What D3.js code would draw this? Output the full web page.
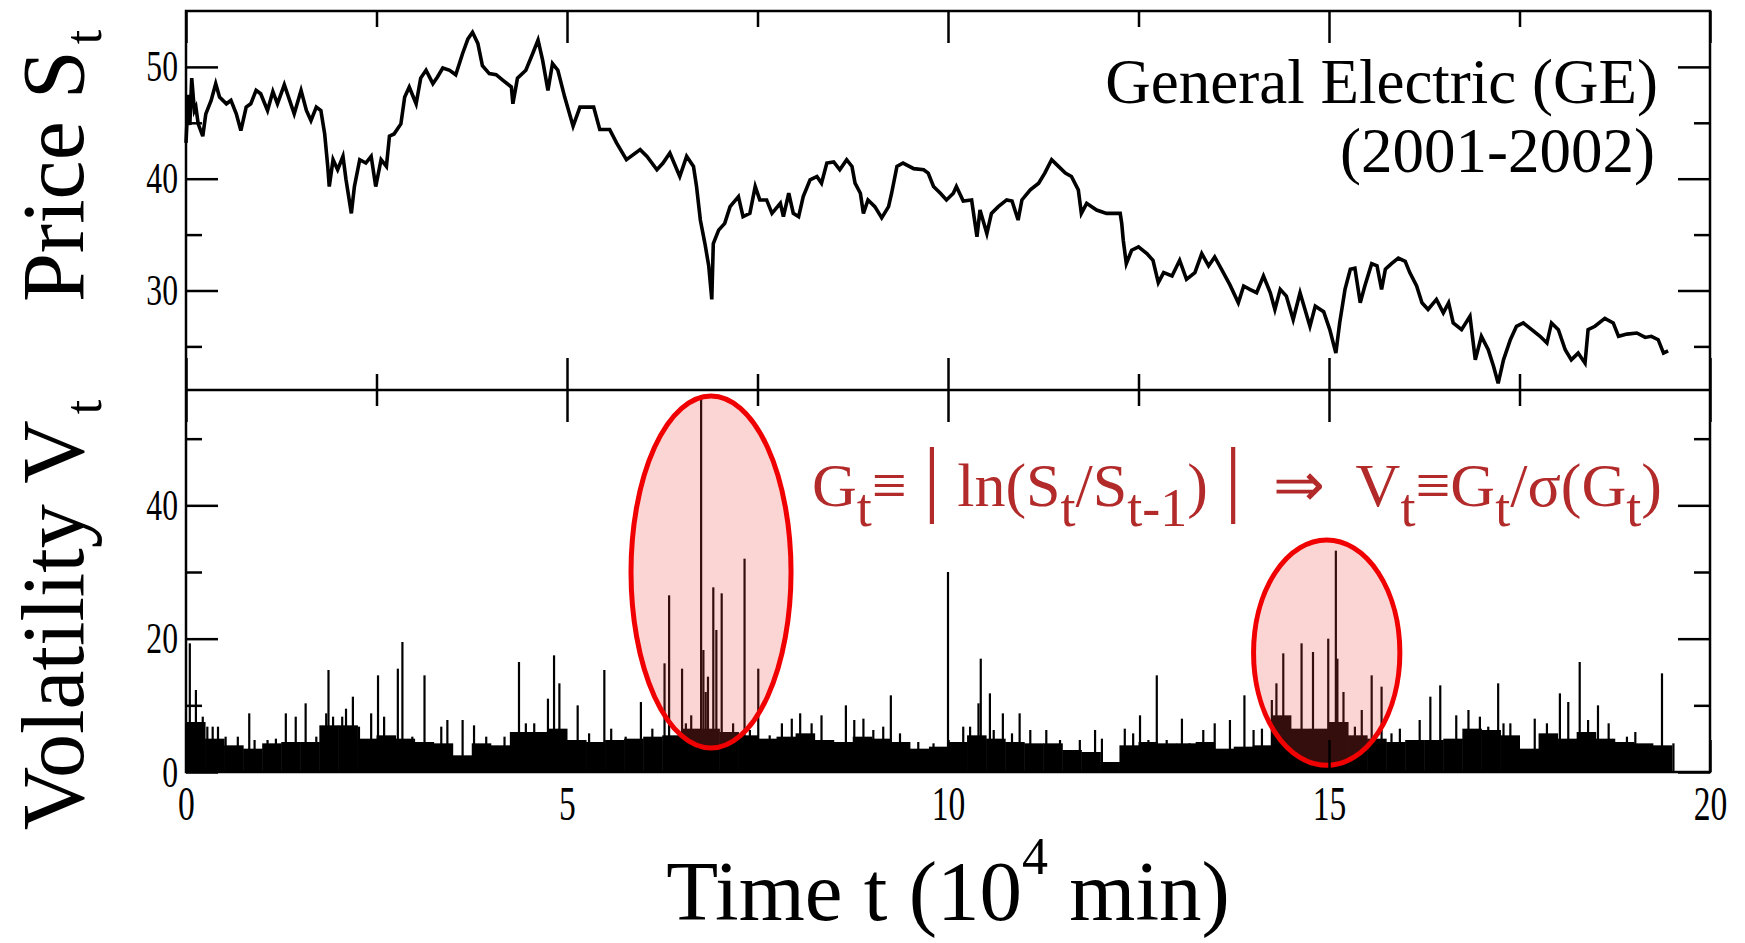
<!DOCTYPE html>
<html>
<head>
<meta charset="utf-8">
<script src="https://d3js.org/d3.v7.min.js"></script>
<style>
body { margin: 0; background: #fff; }
svg text { font-family: "Liberation Serif", "Times New Roman", serif; }
</style>
</head>
<body>
<script>
// GE price S_t, [t (10^4 min), price]
var priceSeries = [[0,43.2],[0.03,47.5],[0.05,44.8],[0.075,49.0],[0.11,46.1],[0.13,46.4],[0.16,44.9],[0.22,43.8],[0.26,45.8],[0.33,47.0],[0.39,48.5],[0.44,47.3],[0.53,46.7],[0.59,47.0],[0.66,45.8],[0.72,44.3],[0.79,46.4],[0.85,46.7],[0.92,47.9],[0.98,47.6],[1.07,46.1],[1.14,47.8],[1.2,46.7],[1.29,48.4],[1.36,47.0],[1.42,45.8],[1.51,47.9],[1.58,46.1],[1.64,45.2],[1.71,46.4],[1.77,46.1],[1.82,44.0],[1.86,41.1],[1.88,39.3],[1.93,41.7],[1.99,40.8],[2.06,42.0],[2.1,39.9],[2.17,36.9],[2.21,39.3],[2.28,41.7],[2.36,41.4],[2.43,42.0],[2.49,39.3],[2.56,41.7],[2.63,41.1],[2.67,43.8],[2.73,44.0],[2.82,44.9],[2.87,47.3],[2.93,48.2],[3.02,46.7],[3.08,49.0],[3.15,49.7],[3.24,48.5],[3.3,49.1],[3.37,49.9],[3.46,49.7],[3.54,49.3],[3.63,51.2],[3.7,52.5],[3.76,53.1],[3.83,52.1],[3.89,50.1],[3.98,49.4],[4.07,49.3],[4.16,48.8],[4.27,48.2],[4.29,46.7],[4.35,49.0],[4.46,49.7],[4.55,51.2],[4.62,52.4],[4.68,50.6],[4.75,47.9],[4.81,50.3],[4.88,49.7],[4.97,47.3],[5.08,44.7],[5.17,46.4],[5.35,46.4],[5.43,44.4],[5.56,44.4],[5.65,43.2],[5.78,41.7],[5.96,42.6],[6.05,42.0],[6.18,40.8],[6.26,41.4],[6.35,42.3],[6.48,40.2],[6.57,42.0],[6.66,41.1],[6.7,39.3],[6.75,36.3],[6.81,34.2],[6.86,32.2],[6.9,29.2],[6.92,34.2],[6.99,35.4],[7.07,36.0],[7.14,37.5],[7.25,38.4],[7.31,36.6],[7.4,36.9],[7.47,39.3],[7.53,38.1],[7.62,38.1],[7.69,36.9],[7.8,37.8],[7.84,36.6],[7.91,38.7],[7.97,36.9],[8.04,36.6],[8.1,38.4],[8.19,39.9],[8.28,40.2],[8.34,39.6],[8.41,41.4],[8.5,41.5],[8.58,40.8],[8.67,41.7],[8.74,41.1],[8.78,39.6],[8.85,38.7],[8.89,36.9],[8.95,38.1],[9.04,37.5],[9.13,36.5],[9.22,37.5],[9.26,38.7],[9.33,41.1],[9.41,41.4],[9.55,40.9],[9.68,40.8],[9.74,40.5],[9.81,39.3],[9.9,38.7],[9.98,38.1],[10.07,38.7],[10.11,39.3],[10.2,38.0],[10.31,38.1],[10.38,34.8],[10.42,37.2],[10.51,35.1],[10.57,36.9],[10.66,37.5],[10.77,38.1],[10.84,38.0],[10.92,36.3],[10.97,38.1],[11.08,39.0],[11.19,39.6],[11.27,40.5],[11.36,41.7],[11.45,41.1],[11.54,40.5],[11.62,40.2],[11.71,39.0],[11.75,36.9],[11.82,37.8],[11.95,37.2],[12.08,36.9],[12.26,36.9],[12.28,36.0],[12.3,34.5],[12.34,32.4],[12.41,33.6],[12.5,33.9],[12.61,33.3],[12.69,32.7],[12.76,30.7],[12.83,31.6],[12.94,31.3],[13.04,32.7],[13.13,31.0],[13.24,31.6],[13.33,33.3],[13.42,32.2],[13.5,33.0],[13.59,31.9],[13.7,30.5],[13.81,28.9],[13.88,30.4],[13.96,30.1],[14.05,29.8],[14.14,31.3],[14.23,29.8],[14.29,28.3],[14.36,30.1],[14.44,29.5],[14.53,27.4],[14.62,29.8],[14.75,26.8],[14.82,28.6],[14.93,28.1],[15.01,26.5],[15.09,24.4],[15.14,27.1],[15.21,30.1],[15.28,31.9],[15.34,32.0],[15.41,28.9],[15.47,30.4],[15.56,32.4],[15.63,32.2],[15.69,30.1],[15.74,31.9],[15.82,32.4],[15.91,32.9],[16.0,32.6],[16.06,31.6],[16.15,30.4],[16.22,28.9],[16.3,28.3],[16.41,29.2],[16.5,28.0],[16.57,28.9],[16.63,27.1],[16.74,26.5],[16.85,27.7],[16.92,23.8],[17.0,25.9],[17.09,24.7],[17.16,23.2],[17.22,21.7],[17.29,23.8],[17.38,25.6],[17.46,26.8],[17.55,27.1],[17.66,26.5],[17.77,25.9],[17.86,25.3],[17.92,27.1],[18.01,26.5],[18.1,24.7],[18.18,23.8],[18.27,24.4],[18.36,23.5],[18.4,26.5],[18.49,26.8],[18.62,27.5],[18.73,27.1],[18.8,25.9],[18.91,26.1],[19.04,26.2],[19.15,25.8],[19.23,25.9],[19.32,25.6],[19.39,24.4],[19.45,24.6]];

// volatility: height of the dense black floor, one value per 0.25 bin
var floorT = [0,0.25,0.5,0.75,1,1.25,1.5,1.75,2,2.25,2.5,2.75,3,3.25,3.5,3.75,4,4.25,4.5,4.75,5,5.25,5.5,5.75,6,6.25,6.5,6.75,7,7.25,7.5,7.75,8,8.25,8.5,8.75,9,9.25,9.5,9.75,10,10.25,10.5,10.75,11,11.25,11.5,11.75,12,12.25,12.5,12.75,13,13.25,13.5,13.75,14,14.25,14.5,14.75,15,15.25,15.5,15.75,16,16.25,16.5,16.75,17,17.25,17.5,17.75,18,18.25,18.5,18.75,19,19.25];
var floorV = [7.5,5.0,4.0,3.5,4.3,4.5,4.5,7.0,7.0,5.0,5.5,5.0,4.5,4.3,2.5,4.3,4.0,6.0,6.0,6.5,4.8,4.5,4.8,5.0,5.3,5.5,6.5,6.5,6.0,5.5,5.0,5.3,5.8,4.8,4.5,5.3,5.0,4.5,3.5,3.8,4.5,5.5,5.0,4.5,4.3,4.3,3.3,3.0,1.5,4.0,4.5,4.3,4.3,4.5,3.5,3.8,4.0,8.5,6.5,6.5,7.5,5.5,5.0,4.5,4.8,4.8,5.0,6.5,6.3,5.5,3.5,5.8,5.0,6.0,5.0,4.5,4.3,4.0];
var floorBin = 0.25;

// single bars standing out of the floor, [t, V]
var spikes = [[0.05,19.3],[0.13,12.3],[0.22,8.3],[0.28,6.8],[0.35,6.8],[0.42,6.8],[0.52,5.3],[0.68,5.3],[0.83,8.8],[0.9,4.8],[1.07,4.8],[1.18,5.0],[1.31,8.8],[1.44,8.3],[1.57,10.3],[1.71,5.3],[1.84,8.8],[1.87,15.3],[1.93,8.3],[2.05,8.3],[2.1,9.5],[2.19,11.3],[2.27,6.8],[2.43,8.8],[2.52,14.5],[2.6,8.3],[2.78,15.5],[2.84,19.5],[2.97,5.3],[3.13,14.5],[3.35,6.8],[3.43,7.8],[3.63,7.8],[3.78,7.0],[3.94,5.3],[4.18,5.3],[4.37,16.5],[4.46,7.3],[4.57,7.3],[4.75,11.0],[4.83,17.5],[4.9,13.3],[5.14,10.0],[5.29,5.8],[5.49,15.3],[5.58,6.5],[5.77,5.3],[5.97,10.5],[6.12,6.5],[6.28,16.3],[6.34,26.5],[6.51,15.5],[6.56,7.3],[6.63,8.5],[6.76,56.5],[6.79,18.3],[6.82,12.0],[6.85,14.3],[6.92,27.7],[6.96,21.3],[7.03,26.8],[7.18,7.3],[7.33,32.0],[7.4,6.3],[7.51,15.5],[7.66,5.5],[7.82,7.3],[7.95,8.0],[8.06,8.8],[8.21,7.3],[8.34,8.5],[8.49,4.3],[8.66,10.0],[8.77,7.8],[8.89,8.0],[9.02,6.3],[9.15,6.8],[9.25,11.5],[9.37,5.8],[9.61,4.5],[9.81,4.3],[10.0,30.0],[10.2,6.8],[10.29,6.8],[10.4,10.3],[10.43,17.0],[10.55,11.8],[10.6,6.3],[10.72,8.8],[10.84,5.8],[10.94,8.8],[11.08,6.3],[11.29,6.3],[11.47,4.8],[11.73,4.8],[11.93,6.3],[12.02,5.0],[12.32,6.5],[12.43,5.8],[12.52,8.5],[12.63,4.8],[12.74,14.5],[12.87,4.8],[13.07,8.0],[13.17,4.3],[13.35,6.3],[13.5,7.3],[13.7,7.8],[13.89,11.5],[14.01,6.3],[14.12,6.5],[14.25,10.8],[14.31,13.3],[14.4,17.8],[14.51,5.8],[14.64,19.3],[14.79,18.0],[14.99,20.0],[15.09,33.2],[15.11,17.0],[15.19,12.0],[15.34,6.8],[15.43,9.3],[15.56,14.5],[15.69,12.8],[15.82,5.8],[15.93,6.5],[16.19,7.8],[16.33,11.3],[16.46,13.0],[16.67,8.5],[16.83,9.3],[16.98,8.3],[17.09,6.8],[17.22,13.3],[17.29,7.3],[17.38,7.3],[17.7,8.0],[17.86,7.3],[18.03,11.8],[18.14,10.5],[18.29,16.5],[18.4,7.8],[18.53,10.0],[18.67,7.3],[18.91,5.3],[19.02,6.0],[19.26,3.8],[19.37,14.8],[19.52,4.3]];

// circled clusters: centre (t, V) and half axes in data units
var rings = [[6.89, 30.0, 1.05, 26.4], [14.97, 17.9, 0.96, 16.9]];

var xMajor = [0, 5, 10, 15, 20], xMinor = [2.5, 7.5, 12.5, 17.5];
var pMajor = [30, 40, 50], pMinor = [25, 35, 45];
var vMajor = [0, 20, 40], vMinor = [10, 30, 50];

var W = 1745, H = 943;
var frameL = 186, frameR = 1710, frameT = 11, frameM = 390, frameB = 772;
var red = "#b22a2a";

var svg = d3.select("body").append("svg")
    .attr("width", W).attr("height", H);
svg.append("rect").attr("width", W).attr("height", H).attr("fill", "#fff");

var x = d3.scaleLinear().domain([0, 20]).range([frameL, frameR]);
var yP = d3.scaleLinear().domain([21.1, 55]).range([frameM, frameT]);
var yV = d3.scaleLinear().domain([0, 57.3]).range([frameB, frameM]);

// volatility floor and spikes
svg.append("g").selectAll("rect")
    .data(floorT).enter().append("rect")
    .attr("x", d => x(d))
    .attr("width", d => x(d + floorBin) - x(d) + 0.5)
    .attr("y", (d, i) => yV(floorV[i]))
    .attr("height", (d, i) => yV(0) - yV(floorV[i]))
    .attr("fill", "#000");

svg.append("g").selectAll("line")
    .data(spikes).enter().append("line")
    .attr("x1", d => x(d[0])).attr("x2", d => x(d[0]))
    .attr("y1", yV(0)).attr("y2", d => yV(d[1]))
    .attr("stroke", "#000").attr("stroke-width", 2.2);

// price line
var line = d3.line().x(d => x(d[0])).y(d => yP(d[1]));
svg.append("path").datum(priceSeries)
    .attr("d", line)
    .attr("fill", "none").attr("stroke", "#000")
    .attr("stroke-width", 3.6).attr("stroke-linejoin", "miter");

// red circles over the clusters
svg.append("g").selectAll("ellipse")
    .data(rings).enter().append("ellipse")
    .attr("cx", d => x(d[0])).attr("cy", d => yV(d[1]))
    .attr("rx", d => x(d[0] + d[2]) - x(d[0]))
    .attr("ry", d => yV(d[1] - d[3]) - yV(d[1]))
    .attr("fill", "rgb(235,60,60)").attr("fill-opacity", 0.22)
    .attr("stroke", "#f00000").attr("stroke-width", 5);

// ticks on all four sides of both panels, pointing inwards
function tickSet(pos, axis, values, size) {
    var g = svg.append("g").attr("transform", pos);
    g.call(axis.tickValues(values).tickSize(size).tickFormat(""));
    g.select(".domain").remove();
    g.selectAll("line").attr("stroke-width", 2.5);
}
[[pMajor, 32], [pMinor, 16]].forEach(function(s) {
    tickSet("translate(" + frameL + ",0)", d3.axisRight(yP), s[0], s[1]);
    tickSet("translate(" + frameR + ",0)", d3.axisLeft(yP), s[0], s[1]);
});
[[vMajor, 32], [vMinor, 16]].forEach(function(s) {
    tickSet("translate(" + frameL + ",0)", d3.axisRight(yV), s[0], s[1]);
    tickSet("translate(" + frameR + ",0)", d3.axisLeft(yV), s[0], s[1]);
});
[[xMajor, 32], [xMinor, 16]].forEach(function(s) {
    tickSet("translate(0," + frameT + ")", d3.axisBottom(x), s[0], s[1]);
    tickSet("translate(0," + frameM + ")", d3.axisTop(x), s[0], s[1]);
    tickSet("translate(0," + frameM + ")", d3.axisBottom(x), s[0], s[1]);
    tickSet("translate(0," + frameB + ")", d3.axisTop(x), s[0], s[1]);
});

// frame
svg.append("rect")
    .attr("x", frameL).attr("y", frameT)
    .attr("width", frameR - frameL).attr("height", frameB - frameT)
    .attr("fill", "none").attr("stroke", "#000").attr("stroke-width", 2.5);
svg.append("line")
    .attr("x1", frameL).attr("x2", frameR).attr("y1", frameM).attr("y2", frameM)
    .attr("stroke", "#000").attr("stroke-width", 2.5);

// tick labels: the original uses a tall narrow face, so squeeze them sideways
function labels(pos, axis, values, pad, size, squeeze) {
    var g = svg.append("g").attr("transform", pos);
    g.call(axis.tickValues(values).tickSize(0).tickPadding(0));
    g.select(".domain").remove();
    g.attr("font-family", "Liberation Serif, serif").attr("font-size", size);
    g.selectAll(".tick text").attr("fill", "#000")
        .attr("x", null).attr("y", null)
        .attr("transform", pad + " scale(" + squeeze + ",1)");
}
labels("translate(" + frameL + ",0)", d3.axisLeft(yP), pMajor, "translate(-8,0)", 44, 0.72);
labels("translate(" + frameL + ",0)", d3.axisLeft(yV), vMajor, "translate(-8,0)", 44, 0.72);
labels("translate(0," + frameB + ")", d3.axisBottom(x), xMajor, "translate(0,14)", 48, 0.7);

// axis titles
var tp = svg.append("text")
    .attr("transform", "translate(83,166) rotate(-90)")
    .attr("text-anchor", "middle").attr("font-size", 88);
tp.append("tspan").text("Price S");
tp.append("tspan").attr("font-size", 52).attr("dx", 6).attr("dy", 18).text("t");

var tv = svg.append("text")
    .attr("transform", "translate(83,615) rotate(-90)")
    .attr("text-anchor", "middle").attr("font-size", 88);
tv.append("tspan").text("Volatility V");
tv.append("tspan").attr("font-size", 52).attr("dx", 6).attr("dy", 18).text("t");

var tx = svg.append("text")
    .attr("x", 948).attr("y", 920)
    .attr("text-anchor", "middle").attr("font-size", 85);
tx.append("tspan").text("Time t (10");
tx.append("tspan").attr("font-size", 52).attr("dy", -46).text("4");
tx.append("tspan").attr("dy", 46).text("\u00a0min)");

// annotations
svg.append("text").attr("x", 1658).attr("y", 103)
    .attr("text-anchor", "end").attr("font-size", 63)
    .text("General Electric (GE)");
svg.append("text").attr("x", 1655).attr("y", 172)
    .attr("text-anchor", "end").attr("font-size", 63)
    .text("(2001-2002)");

var parts = [["G",0],["t",1],["\u2261",0],["\u2009|\u2009",2],["ln(S",0],["t",1],["/S",0],["t-1",1],[")",0],["\u2009|",2],
    ["\u2002\u21d2\u2002",0],["V",0],["t",1],["\u2261G",0],["t",1],["/\u03c3(G",0],["t",1],[")",0]];
var fm = svg.append("text").attr("x", 812).attr("y", 506)
    .attr("font-size", 62).attr("fill", red);
var shift = 0, nChars = 0;
parts.forEach(function(p) {
    var want = p[1] === 1 ? 20 : 0;
    var ts = fm.append("tspan").attr("dy", want - shift).text(p[0]);
    if (p[1] === 1) ts.attr("font-size", 54);
    if (p[1] === 2) ts.attr("font-size", 84);
    shift = want;
    nChars += p[0].length;
});
// stretch the spacing so the formula spans the same width as in the figure
var fw = fm.node().getBBox().width;
fm.attr("letter-spacing", Math.max(0, (846 - fw) / nChars));
</script>
</body>
</html>
